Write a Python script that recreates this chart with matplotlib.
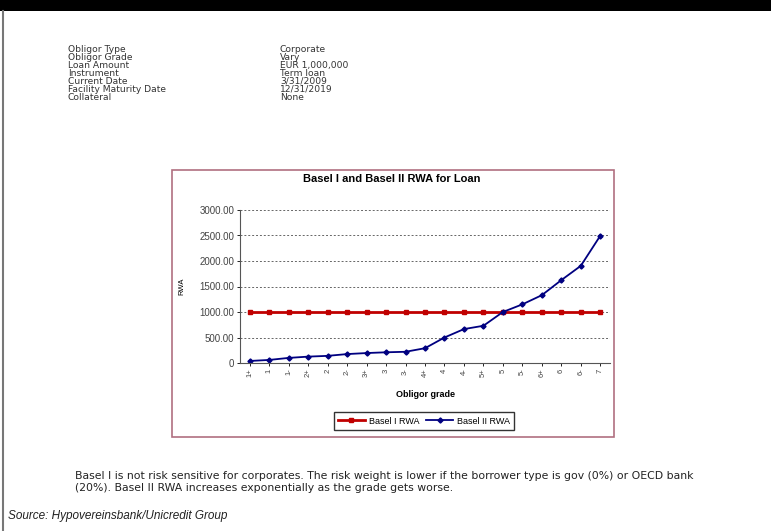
import matplotlib
matplotlib.use('Agg')
import matplotlib.pyplot as plt
from matplotlib.patches import Rectangle
from matplotlib.lines import Line2D

plt.rcParams['font.family'] = ['Liberation Sans', 'DejaVu Sans']

# data
grades = ['1+', '1', '1-', '2+', '2', '2-', '3+', '3', '3-', '4+',
          '4', '4-', '5+', '5', '5-', '6+', '6', '6-', '7']
basel1_rwa = [1000] * 19
basel2_rwa = [40, 60, 100, 125, 140, 175, 195, 210, 220, 290,
              500, 665, 730, 1000, 1150, 1330, 1625, 1905, 2495]
yticks = [0, 500, 1000, 1500, 2000, 2500, 3000]
ytick_labels = ['0', '500.00', '1000.00', '1500.00', '2000.00', '2500.00', '3000.00']

info_labels = ['Obligor Type', 'Obligor Grade', 'Loan Amount', 'Instrument',
               'Current Date', 'Facility Maturity Date', 'Collateral']
info_values = ['Corporate', 'Vary', 'EUR 1,000,000', 'Term loan',
               '3/31/2009', '12/31/2019', 'None']

note_lines = ['Basel I is not risk sensitive for corporates. The risk weight is lower if the borrower type is gov (0%) or OECD bank',
              '(20%). Basel II RWA increases exponentially as the grade gets worse.']

W, H = 771, 531
fig = plt.figure(figsize=(W / 100, H / 100), dpi=100)
fig.patch.set_facecolor('white')


def fx(px):
    return px / W


def fy(py):
    return 1 - py / H


# black band on top and the grey frame line at left
fig.patches.append(Rectangle((0, fy(11)), 1, 11 / H, transform=fig.transFigure,
                             facecolor='black', edgecolor='none', zorder=0))
fig.lines.append(Line2D([fx(3), fx(3)], [0, fy(11)], transform=fig.transFigure,
                        color='#777777', lw=1.5))

# obligor info block
for i, (lab, val) in enumerate(zip(info_labels, info_values)):
    yy = fy(49 + i * 8.1)
    fig.text(fx(68), yy, lab, fontsize=6.6, color='#333333', va='center',
             family='DejaVu Sans')
    fig.text(fx(280), yy, val, fontsize=6.6, color='#333333', va='center',
             family='DejaVu Sans')

# chart area box
fig.patches.append(Rectangle((fx(172), fy(437)), (614 - 172) / W, (437 - 170) / H,
                             transform=fig.transFigure, facecolor='white',
                             edgecolor='#b07080', lw=1.2, zorder=0))

ax = fig.add_axes([fx(240), fy(363), (610 - 240) / W, (363 - 210) / H], zorder=2)
x = list(range(len(grades)))
ax.plot(x, basel1_rwa, color='#c00000', lw=2, marker='s', ms=2.5, label='Basel I RWA')
ax.plot(x, basel2_rwa, color='#000080', lw=1.3, marker='D', ms=2.6, label='Basel II RWA')
ax.set_xlim(-0.5, len(grades) - 0.5)
ax.set_ylim(0, 3000)
ax.set_yticks(yticks)
ax.set_yticklabels(ytick_labels, fontsize=7, color='#444444')
ax.set_xticks(x)
ax.set_xticklabels(grades, fontsize=5.5, rotation=90, color='#444444')
ax.tick_params(length=2, width=0.6, pad=2)
ax.yaxis.grid(True, color='#666666', linestyle=(0, (2, 2)), lw=0.7)
ax.set_axisbelow(True)
for s in ['top', 'right']:
    ax.spines[s].set_visible(False)
for s in ['left', 'bottom']:
    ax.spines[s].set_color('#555555')
    ax.spines[s].set_linewidth(0.8)
ax.set_xlabel('Obligor grade', fontsize=6.5, fontweight='bold', labelpad=9)
ax.set_ylabel('RWA', fontsize=5.5, labelpad=10)

fig.text(fx(392), fy(179), 'Basel I and Basel II RWA for Loan', fontsize=8,
         fontweight='bold', ha='center', va='center')

leg = fig.legend(loc='center', bbox_to_anchor=(fx(424), fy(421)), ncol=2, fontsize=6.5,
                 frameon=True, fancybox=False, edgecolor='black', handlelength=3,
                 borderpad=0.45, columnspacing=0.8, handletextpad=0.4)
leg.set_zorder(3)

for i, line in enumerate(note_lines):
    fig.text(fx(75), fy(476 + i * 12), line, fontsize=7.8, color='#222222', va='center',
             family='DejaVu Sans')

fig.text(fx(8), fy(516), 'Source: Hypovereinsbank/Unicredit Group', fontsize=8.5,
         style='italic', color='#222222', va='center')

fig.savefig('out.png', dpi=100)
